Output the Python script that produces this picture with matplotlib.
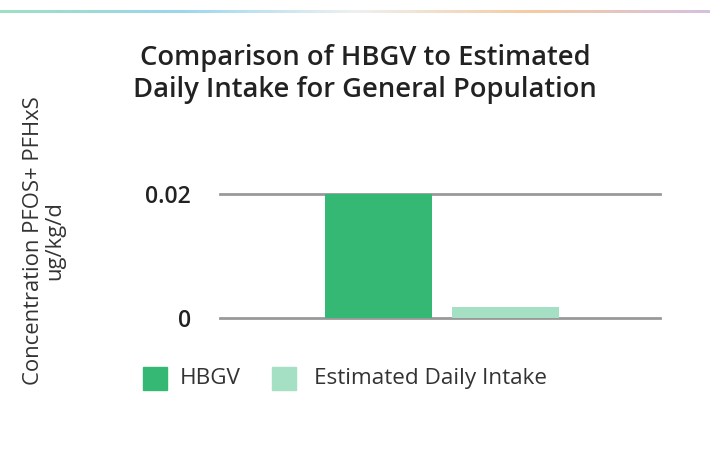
#!/usr/bin/env python3
"""HBGV vs estimated daily intake bar chart."""
import numpy as np
import matplotlib
matplotlib.use("Agg")
import matplotlib.pyplot as plt
from matplotlib.colors import LinearSegmentedColormap
from matplotlib.patches import Rectangle

# data
SERIES = ["HBGV", "Estimated Daily Intake"]
VALUES = [0.02, 0.0017]
COLORS = ["#34b874", "#a6e0c4"]
YTICKS = [0, 0.02]
YTICK_LABELS = ["0", "0.02"]
TITLE = "Comparison of HBGV to Estimated\nDaily Intake for General Population"
YLABEL = "Concentration PFOS+ PFHxS\nug/kg/d"

W, H = 710, 454
plt.rcParams["font.family"] = ["Open Sans", "DejaVu Sans"]

fig = plt.figure(figsize=(W / 100, H / 100), dpi=100)

# decorative gradient strip at the top
strip = fig.add_axes([0, 1 - 13 / H, 1, 3 / H])
cmap = LinearSegmentedColormap.from_list(
    "strip", ["#9ee0c2", "#9ad6ef", "#eef1f0", "#f5cba2", "#d6c0e0"])
strip.imshow(np.linspace(0, 1, 256)[None, :], aspect="auto", cmap=cmap)
strip.axis("off")

# main axes: x 220..660 px, y 194..318 px
ax = fig.add_axes([220 / W, 1 - 318 / H, 440 / W, 124 / H])
width = 0.243
xs = [-0.14, 0.149]
for x, v, c in zip(xs, VALUES, COLORS):
    ax.bar(x, v, width=width, color=c, zorder=2)
ax.set_xlim(-0.5, 0.5)
ax.set_ylim(0, 0.02)
for y in YTICKS:
    ax.axhline(y, color="#999999", lw=2, zorder=1, clip_on=False)
for s in ax.spines.values():
    s.set_visible(False)
ax.set_xticks([])
ax.set_yticks(YTICKS)
ax.set_yticklabels(YTICK_LABELS, fontsize=16.5, color="#222222", fontweight="semibold")
ax.tick_params(axis="y", length=0, pad=21)

fig.text(365 / W, 1 - 74 / H, TITLE, ha="center", va="center", fontsize=19.7,
         fontweight="semibold", color="#222222", linespacing=1.22)
fig.text(44 / W, 1 - 241 / H, YLABEL, ha="center", va="center", rotation=90,
         fontsize=15.8, color="#333333", linespacing=1.0)

# legend
lx = [143, 272]
tx = [180, 314]
for i, name in enumerate(SERIES):
    fig.patches.append(Rectangle((lx[i] / W, 1 - 390 / H), 24 / W, 23 / H,
                                 transform=fig.transFigure, color=COLORS[i]))
    fig.text(tx[i] / W, 1 - 378.5 / H, name, ha="left", va="center",
             fontsize=16.2, color="#333333")

fig.savefig("out.png", dpi=100)
